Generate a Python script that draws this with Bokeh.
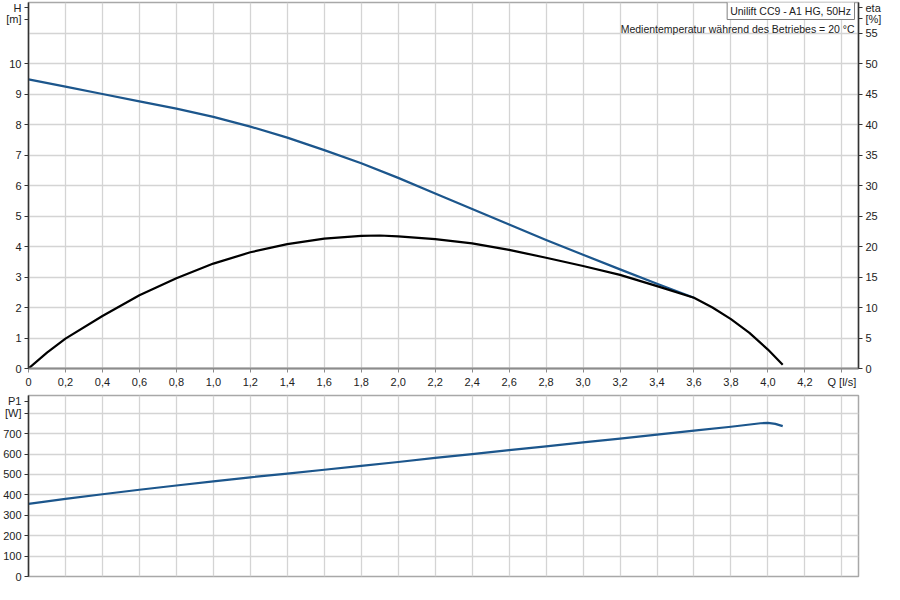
from bokeh.plotting import figure
from bokeh.models import Range1d, LinearAxis, FixedTicker, Label
from bokeh.layouts import column
from bokeh.embed import file_html
from bokeh.resources import INLINE

# ---------------- data ----------------
q_ticks = [0, 0.2, 0.4, 0.6, 0.8, 1.0, 1.2, 1.4, 1.6, 1.8, 2.0, 2.2,
           2.4, 2.6, 2.8, 3.0, 3.2, 3.4, 3.6, 3.8, 4.0, 4.2, 4.4]
q_tick_labels = ["0", "0,2", "0,4", "0,6", "0,8", "1,0", "1,2", "1,4", "1,6",
                 "1,8", "2,0", "2,2", "2,4", "2,6", "2,8", "3,0", "3,2", "3,4",
                 "3,6", "3,8", "4,0", "4,2", "Q [l/s]"]
h_ticks = [0, 1, 2, 3, 4, 5, 6, 7, 8, 9, 10]
h_tick_labels = ["0", "1", "2", "3", "4", "5", "6", "7", "8", "9", "10"]
h_grid = [0, 1, 2, 3, 4, 5, 6, 7, 8, 9, 10, 11, 12]
eta_ticks = [0, 5, 10, 15, 20, 25, 30, 35, 40, 45, 50, 55]
eta_tick_labels = ["0", "5", "10", "15", "20", "25", "30", "35", "40", "45",
                   "50", "55"]
p_ticks = [0, 100, 200, 300, 400, 500, 600, 700, 800]
p_tick_labels = ["0", "100", "200", "300", "400", "500", "600", "700", "[W]"]

# head H [m]
q_h = [0, 0.2, 0.4, 0.6, 0.8, 1.0, 1.2, 1.4, 1.6, 1.8, 2.0, 2.2, 2.4,
       2.6, 2.8, 3.0, 3.2, 3.4, 3.6]
h_vals = [9.48, 9.24, 9.0, 8.76, 8.52, 8.25, 7.93, 7.57, 7.16, 6.73, 6.25,
          5.74, 5.23, 4.72, 4.21, 3.73, 3.25, 2.78, 2.32]

# efficiency eta [%]
q_eta = [0, 0.1, 0.2, 0.4, 0.6, 0.8, 1.0, 1.2, 1.4, 1.6, 1.8, 1.9, 2.0, 2.2,
         2.4, 2.6, 2.8, 3.0, 3.2, 3.4, 3.6, 3.7, 3.8, 3.9, 4.0, 4.08]
eta_vals = [0, 2.6, 4.9, 8.6, 12.0, 14.8, 17.2, 19.05, 20.4, 21.3, 21.75,
            21.8, 21.65, 21.2, 20.5, 19.45, 18.15, 16.8, 15.35, 13.5, 11.6,
            10.0, 8.1, 5.85, 3.1, 0.6]

# power P1 [W]
q_p = [0, 0.2, 0.4, 0.6, 0.8, 1.0, 1.2, 1.4, 1.6, 1.8, 2.0, 2.2, 2.4, 2.6,
       2.8, 3.0, 3.2, 3.4, 3.6, 3.8, 3.96, 4.0, 4.04, 4.08]
p_vals = [356, 380, 403, 425, 446, 466, 486, 504, 523, 542, 561, 581, 600,
          619, 638, 657, 676, 695, 715, 734, 751, 753, 748, 737]

h_unit_labels = ["H", "[m]"]
eta_unit_labels = ["eta", "[%]"]
p_unit_label = "P1"
title_text = "Unilift CC9 - A1 HG, 50Hz"
temp_text = "Medientemperatur während des Betriebes = 20 °C"

# ---------------- styling ----------------
FONT = "Liberation Sans"
TXT = "#222222"
GRID = "#d4d4d4"
BLUE = "#1c568c"
W = 884
ML, MR = 28, 22
X_MAX = 4.49
frame_w = W - ML - MR
pxq = X_MAX / frame_w

TOP_H, TOP_MT, TOP_MB = 390, 2, 22
top_frame_h = TOP_H - TOP_MT - TOP_MB
pxh = 12 / top_frame_h

BOT_H, BOT_MT, BOT_MB = 192, 5, 6
bot_frame_h = BOT_H - BOT_MT - BOT_MB
P_MAX = 887
pxp = P_MAX / bot_frame_h


def style_axis(ax, line_color, line_width):
    ax.axis_line_color = line_color
    ax.axis_line_width = line_width
    ax.major_tick_line_color = line_color
    ax.major_tick_out = 4
    ax.major_tick_in = 0
    ax.minor_tick_out = 0
    ax.minor_tick_in = 0
    ax.major_label_text_font = FONT
    ax.major_label_text_font_size = "11px"
    ax.major_label_text_color = TXT
    ax.major_label_standoff = 3


def base_fig(height, mt, mb, y_max):
    f = figure(width=W, height=height, x_range=Range1d(0, X_MAX),
               y_range=Range1d(0, y_max), output_backend="svg",
               toolbar_location=None, min_border_left=ML, min_border_right=MR,
               min_border_top=mt, min_border_bottom=mb)
    f.background_fill_color = "white"
    f.border_fill_color = "white"
    f.outline_line_color = "#a8a8a8"
    f.outline_line_width = 1.5
    f.xaxis.ticker = FixedTicker(ticks=q_ticks)
    f.xgrid.ticker = FixedTicker(ticks=q_ticks)
    f.xgrid.grid_line_color = GRID
    f.ygrid.grid_line_color = GRID
    f.xgrid.grid_line_width = 1.3
    f.ygrid.grid_line_width = 1.3
    style_axis(f.xaxis[0], "#8c8c8c", 2)
    style_axis(f.yaxis[0], "#333333", 1.5)
    return f


# ---------------- top: H and eta ----------------
top = base_fig(TOP_H, TOP_MT, TOP_MB, 12)
top.extra_y_ranges = {"eta": Range1d(0, 60)}

# unit captions sit at the top of each axis, as extra tick labels
h_unit_pos = [12 - 5 * pxh, 12 - 16.5 * pxh]
top.yaxis.ticker = FixedTicker(ticks=h_ticks + h_unit_pos)
top.yaxis.major_label_overrides = dict(zip(h_ticks + h_unit_pos,
                                           h_tick_labels + h_unit_labels))
top.ygrid.ticker = FixedTicker(ticks=h_grid)
top.xaxis.major_label_overrides = dict(zip(q_ticks, q_tick_labels))

eta_unit_pos = [60 - 5 * 5 * pxh, 60 - 16 * 5 * pxh]
right = LinearAxis(y_range_name="eta",
                   ticker=FixedTicker(ticks=eta_ticks + eta_unit_pos))
right.major_label_overrides = dict(zip(eta_ticks + eta_unit_pos,
                                       eta_tick_labels + eta_unit_labels))
style_axis(right, "#333333", 1.5)
top.add_layout(right, "right")

top.line(q_h, h_vals, line_color=BLUE, line_width=2.2, line_join="round")
top.line(q_eta, eta_vals, y_range_name="eta", line_color="black",
         line_width=2.2, line_join="round")


def lab(fig, x, y, text, align="center", baseline="middle", **kw):
    fig.add_layout(Label(x=x, y=y, text=text, text_font=FONT,
                         text_font_size="10.5px", text_color=TXT,
                         text_align=align, text_baseline=baseline, **kw))


lab(top, X_MAX - 4 * pxq, 12 - 8 * pxh, title_text, align="right",
    border_line_color="#808080", border_line_width=1,
    background_fill_color="white", padding=3)
lab(top, X_MAX - 4 * pxq, 12 - 26.5 * pxh, temp_text, align="right")

# ---------------- bottom: P1 ----------------
bot = base_fig(BOT_H, BOT_MT, BOT_MB, P_MAX)
p_unit_pos = [P_MAX - 5.5 * pxp]
bot.yaxis.ticker = FixedTicker(ticks=p_ticks + p_unit_pos)
bot.ygrid.ticker = FixedTicker(ticks=p_ticks)
bot.yaxis.major_label_overrides = dict(zip(p_ticks + p_unit_pos,
                                           p_tick_labels + [p_unit_label]))
bot.xaxis.visible = False

bot.line(q_p, p_vals, line_color=BLUE, line_width=2.2, line_join="round")

layout = column(top, bot, spacing=0)
open("out.html", "w").write(file_html(layout, INLINE))
